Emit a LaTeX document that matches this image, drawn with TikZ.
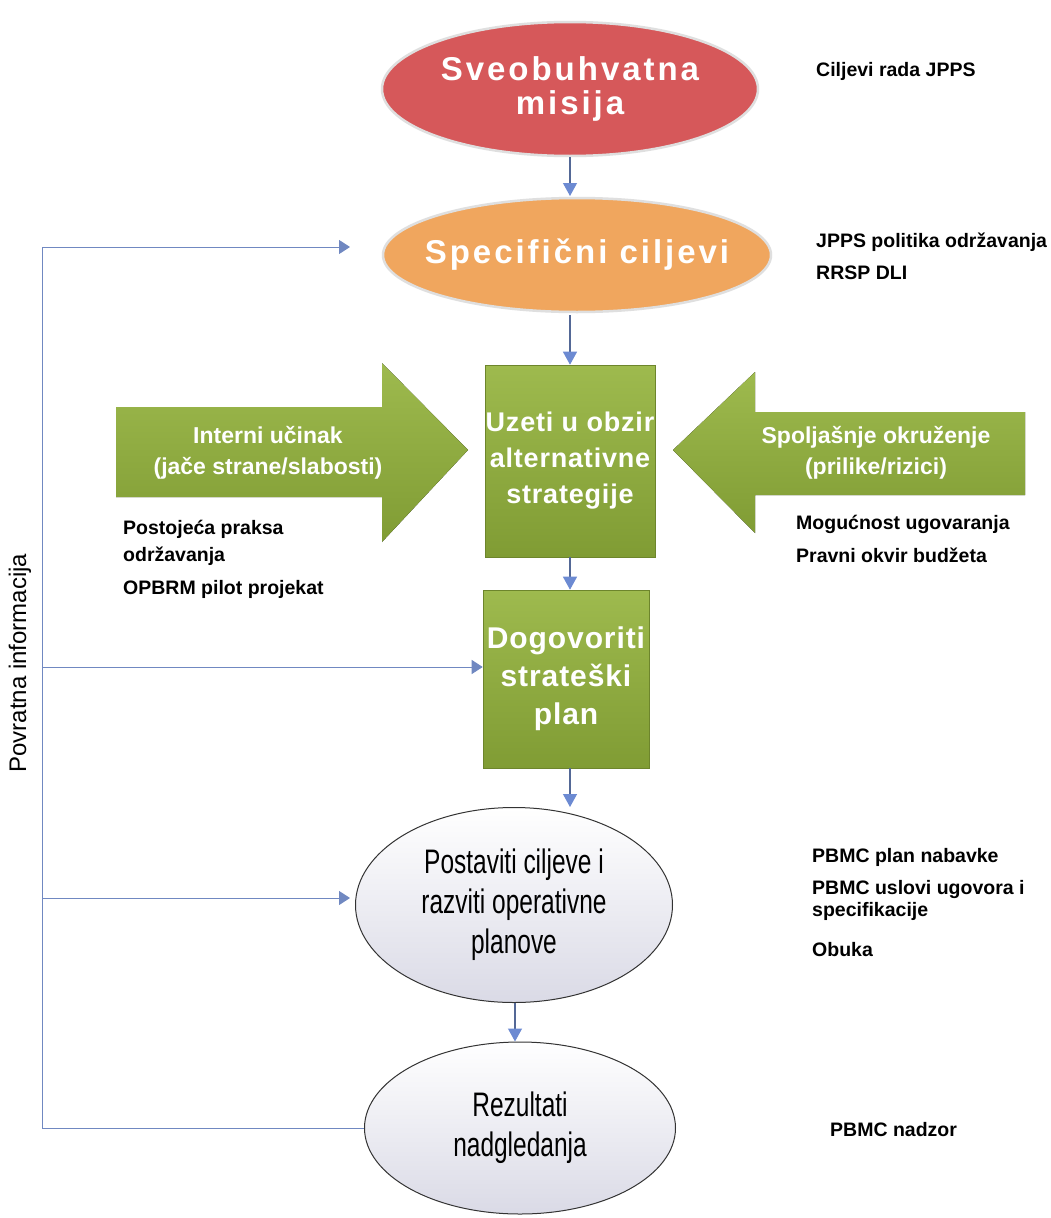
\documentclass[tikz,border=0pt]{standalone}
\usepackage{fontspec}
\setmainfont{Liberation Sans}
\newfontfamily\narrowfont[FakeStretch=0.72]{Liberation Sans}
\newfontfamily\spacedfont[LetterSpace=9]{Liberation Sans}
\newfontfamily\semispaced[LetterSpace=3]{Liberation Sans}
\usetikzlibrary{arrows.meta,shapes.geometric}
\definecolor{redE}{RGB}{214,88,90}
\definecolor{orangeE}{RGB}{240,166,94}
\definecolor{greenT}{RGB}{158,186,78}
\definecolor{greenB}{RGB}{128,156,52}
\definecolor{blueL}{RGB}{108,138,210}
\definecolor{lineB}{RGB}{84,104,150}
\definecolor{grayE}{RGB}{218,218,230}
\tikzset{
  titleell/.style={ellipse, inner sep=0pt, draw=gray!25, line width=2.5pt},
  titletext/.style={text=white, align=center, inner sep=0pt,
    font=\spacedfont\bfseries\fontsize{33}{34}\selectfont},
  greenbox/.style={rectangle, top color=greenT, bottom color=greenB, draw=greenB!85!black,
    line width=0.6pt, text=white, align=center, inner sep=0pt,
    font=\semispaced\bfseries\fontsize{27}{36}\selectfont},
  grayell/.style={ellipse, top color=white, bottom color=grayE, draw=black!80, line width=1pt,
    align=center, inner sep=0pt, font=\narrowfont\fontsize{34}{40}\selectfont},
  arrowtext/.style={text=white, align=center, inner sep=0pt,
    font=\bfseries\fontsize{23}{31}\selectfont},
  lab/.style={anchor=north west, align=left, inner sep=0pt,
    font=\bfseries\fontsize{19.5}{22}\selectfont},
  conn/.style={draw=lineB, line width=1.2pt, -{Triangle[length=13pt,width=14pt,fill=blueL]}, arrows={[color=blueL]}},
  fbline/.style={draw=blueL!80!gray, line width=1pt},
  fbarrow/.style={fbline, -{Triangle[length=11pt,width=14pt]}},
}
\begin{document}
\begin{tikzpicture}[x=1pt,y=-1pt]
\fill[white] (0,0) rectangle (1051,1218);
\useasboundingbox (0,0) rectangle (1051,1218);

% top ellipses
\node[titleell, fill=redE, minimum width=376pt, minimum height=134pt] (mis) at (570,89) {};
\node[titletext] (mistext) at (mis.center) {Sveobuhvatna\\misija};
\node[titleell, fill=orangeE, minimum width=388pt, minimum height=114pt] (spec) at (577,255) {};
\node[titletext] (spectext) at (spec.center) {Specifični ciljevi};

% central green boxes
\node[greenbox, minimum width=170pt, minimum height=192pt] (uzeti) at (570,461) {Uzeti u obzir\\alternativne\\strategije};
\node[greenbox, minimum width=166pt, minimum height=178pt, font=\semispaced\bfseries\fontsize{30}{38}\selectfont] (dog) at (566,679) {Dogovoriti\\strateški\\plan};

% side block arrows
\fill[top color=greenT, bottom color=greenB] (116,407) -- (382,407) -- (382,363) -- (468,450) -- (382,542) -- (382,497) -- (116,497) -- cycle;
\node[arrowtext] (interni) at (268,453) {Interni učinak\\(jače strane/slabosti)};
\fill[top color=greenT, bottom color=greenB] (1025,412) -- (755,412) -- (755,372) -- (673,450) -- (755,533) -- (755,495) -- (1025,495) -- cycle;
\node[arrowtext] (spolj) at (876,453) {Spoljašnje okruženje\\(prilike/rizici)};

% lower ellipses
\node[grayell, minimum width=317pt, minimum height=195pt] (post) at (514,905) {Postaviti ciljeve i\\razviti operativne\\planove};
\node[grayell, minimum width=311pt, minimum height=172pt] (rez) at (520,1128) {Rezultati\\nadgledanja};

% vertical flow connectors
\draw[conn] (mis.south -| 570,0) -- (570,196);
\draw[conn] (570,315) -- (uzeti.north -| 570,0);
\draw[conn] (uzeti.south -| 570,0) -- (dog.north -| 570,0);
\draw[conn] (dog.south -| 570,0) -- (post.north -| 570,0);
\draw[conn] (post.south -| 515,0) -- (rez.north -| 515,0);

% feedback loop
\coordinate (fbTop) at (42,247);
\coordinate (fbDog) at (42,667);
\coordinate (fbPost) at (42,898);
\coordinate (fbBot) at (42,1128);
\coordinate (tipSpec) at (350,247);
\coordinate (tipPost) at (350,898);
\draw[fbline] (rez.west) -- (fbBot) -- (fbTop);
\draw[fbarrow] (fbTop) -- (tipSpec);
\draw[fbarrow] (fbDog) -- (dog.west |- fbDog);
\draw[fbarrow] (fbPost) -- (tipPost);
\node[rotate=90, font=\fontsize{24}{26}\selectfont, inner sep=0pt] (povr) at (20,663) {Povratna informacija};

% side labels
\node[lab] (l1) at (816,62) {Ciljevi rada JPPS};
\node[lab] (l2) at (816,233) {JPPS politika održavanja};
\node[lab] (l3) at (816,266) {RRSP DLI};
\node[lab] (l4) at (796,515) {Mogućnost ugovaranja};
\node[lab] (l5) at (796,548) {Pravni okvir budžeta};
\node[lab, font=\bfseries\fontsize{19.5}{27}\selectfont] (l6) at (123,520) {Postojeća praksa\\održavanja};
\node[lab] (l7) at (123,580) {OPBRM pilot projekat};
\node[lab] (l8) at (812,848) {PBMC plan nabavke};
\node[lab] (l9) at (812,880) {PBMC uslovi ugovora i\\specifikacije};
\node[lab] (l10) at (812,942) {Obuka};
\node[lab] (l11) at (830,1122) {PBMC nadzor};
\end{tikzpicture}
\end{document}
